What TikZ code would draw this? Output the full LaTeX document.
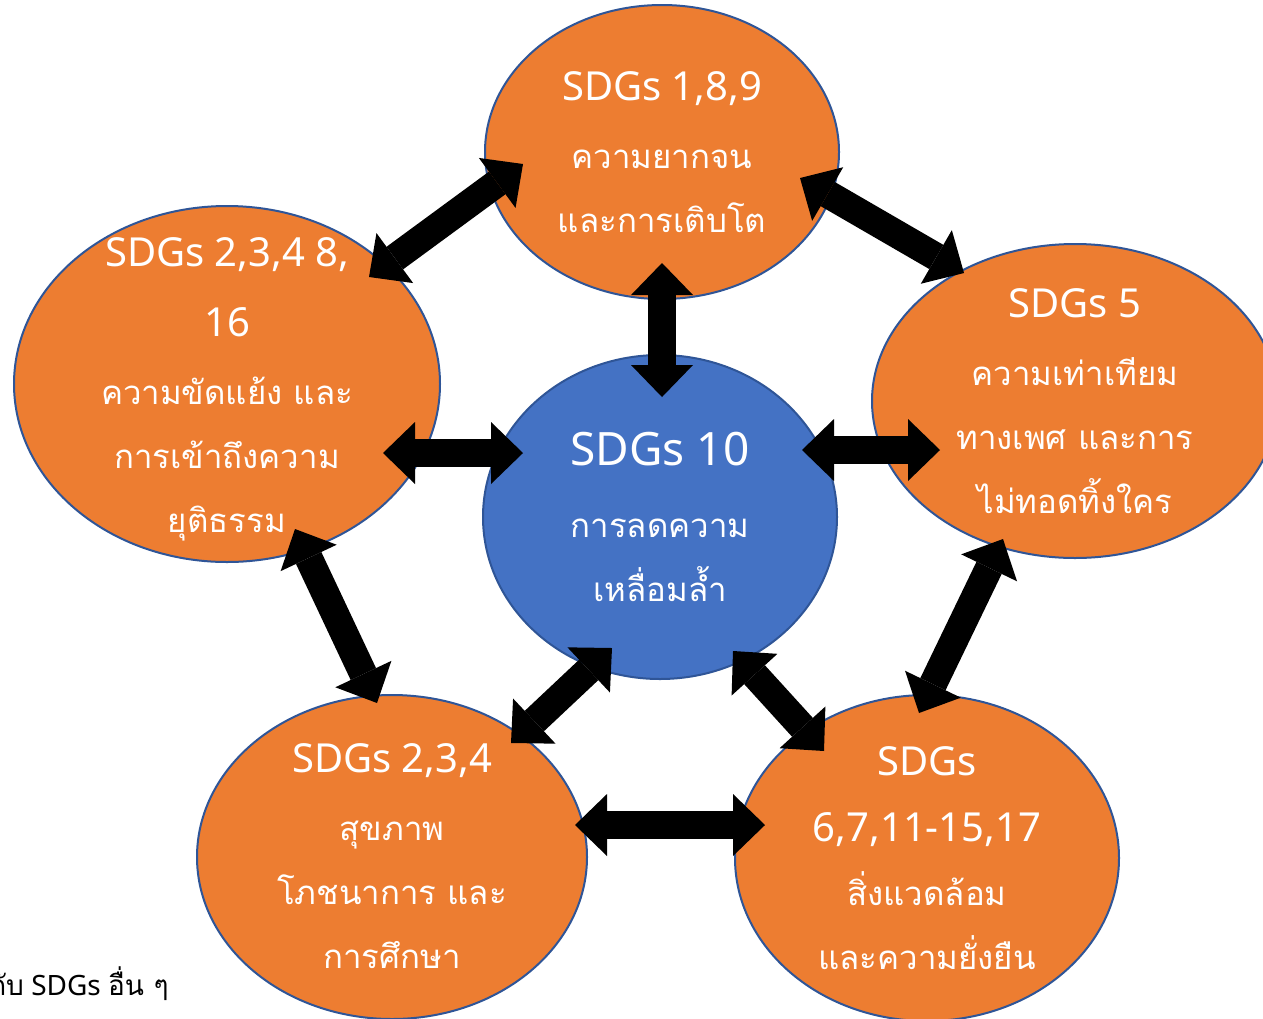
\documentclass[tikz,border=0pt]{standalone}
\usepackage{fontspec}
\setmainfont{Noto Sans}
\newfontfamily\thaifont[Script=Thai]{Loma}
\newcommand\tfnt{\thaifont\fontsize{16.5}{32}\selectfont}
\usetikzlibrary{shapes.geometric,arrows.meta,calc}
\definecolor{orng}{HTML}{ED7D31}
\definecolor{blu}{HTML}{4472C4}
\definecolor{edge}{HTML}{2F5597}
\tikzset{
  bubble/.style={ellipse,draw=edge,line width=1pt,inner sep=0pt},
  label/.style={text=white,align=center,font=\fontsize{20}{32}\selectfont},
  link/.style={line width=14pt,
    {Triangle[length=16pt,width=31pt,line width=0pt]}-{Triangle[length=16pt,width=31pt,line width=0pt]}}
}
\begin{document}
\begin{tikzpicture}[x=0.5pt,y=-0.5pt]
\clip (0,0) rectangle (1263,1018);
\fill[white] (0,0) rectangle (1263,1018);
% bubbles
\node[bubble,fill=orng,minimum width=177pt,minimum height=147pt] (T) at (662,152) {};
\node[bubble,fill=orng,minimum width=213pt,minimum height=178pt] (L) at (227,384) {};
\node[bubble,fill=orng,minimum width=203pt,minimum height=157pt] (R) at (1075,401) {};
\node[bubble,fill=blu,minimum width=177pt,minimum height=162pt] (C) at (660,517) {};
\node[bubble,fill=orng,minimum width=195pt,minimum height=162pt] (BL) at (392,857) {};
\node[bubble,fill=orng,minimum width=192pt,minimum height=163pt] (BR) at (927,858) {};
% texts
\node[label] (Tt) at (T) {SDGs 1,8,9\\[2pt]{\tfnt ความยากจน}\\{\tfnt และการเติบโต}};
\node[label] (Lt) at ($(L)+(0,5)$) {SDGs 2,3,4 8,\\[3pt]16\\[2pt]{\tfnt ความขัดแย้ง และ}\\{\tfnt การเข้าถึงความ}\\{\tfnt ยุติธรรม}};
\node[label] (Rt) at (R) {SDGs 5\\[2pt]{\tfnt ความเท่าเทียม}\\{\tfnt ทางเพศ และการ}\\{\tfnt ไม่ทอดทิ้งใคร}};
\node[label] (Ct) at ($(C)+(0,0)$) {{\fontsize{23}{32}\selectfont SDGs 10}\\[4pt]{\tfnt การลดความ}\\{\tfnt เหลื่อมล้ำ}};
\node[label] (BLt) at ($(BL)+(0,-1)$) {SDGs 2,3,4\\[2pt]{\tfnt สุขภาพ}\\{\tfnt โภชนาการ และ}\\{\tfnt การศึกษา}};
\node[label] (BRt) at ($(BR)+(0,0)$) {SDGs\\[1pt]6,7,11-15,17\\{\tfnt สิ่งแวดล้อม}\\{\tfnt และความยั่งยืน}};
% connectors
\draw[link] ($(T)+(-139,12)$) -- ($(L)+(142,-107)$);
\draw[link] ($(T)+(138,26)$) -- ($(R)+(-111,-128)$);
\draw[link] ($(T)+(0,111)$) -- ($(C)+(2,-120)$);
\draw[link] ($(L)+(156,69)$) -- ($(C)+(-137,-64)$);
\draw[link] ($(C)+(142,-67)$) -- ($(R)+(-135,49)$);
\draw[link] ($(L)+(68,145)$) -- ($(BL)+(-15,-154)$);
\draw[link] ($(C)+(-48,131)$) -- ($(BL)+(119,-114)$);
\draw[link] ($(C)+(73,134)$) -- ($(BR)+(-103,-107)$);
\draw[link] ($(R)+(-72,138)$) -- ($(BR)+(-8,-145)$);
\draw[link] ($(BL)+(183,-32)$) -- ($(BR)+(-162,-33)$);
% footnote
\node[anchor=base east,inner sep=0pt,font=\fontsize{14}{16}\selectfont] (note) at (169,995) {{\thaifont กับ} SDGs {\thaifont อื่น ๆ}};
\end{tikzpicture}
\end{document}
